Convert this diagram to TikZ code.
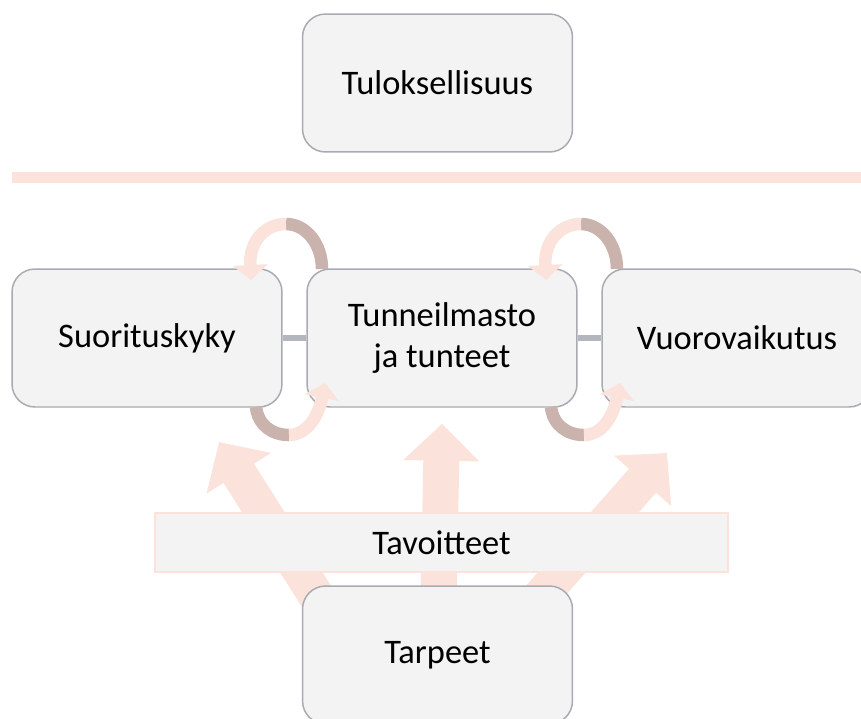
\documentclass[tikz,border=0pt]{standalone}
\usepackage{fontspec}
\setmainfont{Carlito}
\usepackage{xcolor}
\usepackage{tikz}
\usetikzlibrary{arrows.meta, positioning, backgrounds}
\definecolor{boxfill}{HTML}{F3F3F3}
\definecolor{boxline}{HTML}{A8ABB2}
\definecolor{softpink}{HTML}{FBE3DB}
\definecolor{ribbondark}{HTML}{C9B3AC}
\definecolor{linkgray}{HTML}{B3B6BD}
\tikzstyle{bigarrow} = [softpink, line width=0.72cm, -{Triangle[length=0.74cm,width=1.48cm]}]
\tikzstyle{ringarrow} = [softpink, line width=0.25cm, -{Triangle[length=0.3cm,width=0.68cm]}]
\tikzstyle{ringback} = [ribbondark, line width=0.25cm]

\begin{document}
\begin{tikzpicture}[
    x=0.02cm, y=-0.02cm,
    font=\fontsize{19.6}{23}\selectfont,
    box/.style={rectangle, rounded corners=0.46cm, draw=boxline, line width=0.85pt, fill=boxfill, minimum width=5.4cm, minimum height=2.76cm, align=center},
    band/.style={rectangle, draw=softpink, line width=0.85pt, fill=boxfill, minimum width=11.46cm, minimum height=1.18cm},
    link/.style={linkgray, line width=3.2pt}
]
    \useasboundingbox (0,0) rectangle (861,718);

    \node[box] (tulos) at (437.5,83) {Tuloksellisuus};
    \draw[softpink, line width=0.22cm] (12,177) -- (861,177);

    \node[box] (suoritus) at (147,338) {Suorituskyky};
    \node[box] (tunne) at (442,338) {Tunneilmasto\\ja tunteet};
    \node[box] (vuoro) at (737,338) {Vuorovaikutus};

    \draw[link] (suoritus) -- (tunne);
    \draw[link] (tunne) -- (vuoro);

    \node[band] (tavoite) at (441.5,542.5) {Tavoitteet};
    \node[box] (tarpeet) at (437.5,655) {Tarpeet};

    % arrows up from the needs
    \coordinate (tipL) at (219,442);
    \coordinate (tipR) at (667,453);
    \begin{scope}[on background layer]
        \draw[bigarrow] ([xshift=-1.68cm]tarpeet.center) -- (tipL);
        \draw[bigarrow] (tarpeet.center) -- ([yshift=-0.32cm]tunne.south);
        \draw[bigarrow] ([xshift=1.03cm]tarpeet.center) -- (tipR);
    \end{scope}

    % circular arrows between the boxes
    \foreach \dx in {0,295} {
        \begin{scope}[shift={(\dx,0)}]
            \draw[ringback] (286,224) .. controls (306,224) and (322,244) .. (322,269);
            \draw[ringarrow] (286,224) .. controls (266,224) and (249,240) .. (251,280);
            \draw[ringback] (256,407) .. controls (258,425) and (272,435) .. (289,435);
            \draw[ringarrow] (289,435) .. controls (306,435) and (318,418) .. (325,383);
        \end{scope}
    }
\end{tikzpicture}
\end{document}
